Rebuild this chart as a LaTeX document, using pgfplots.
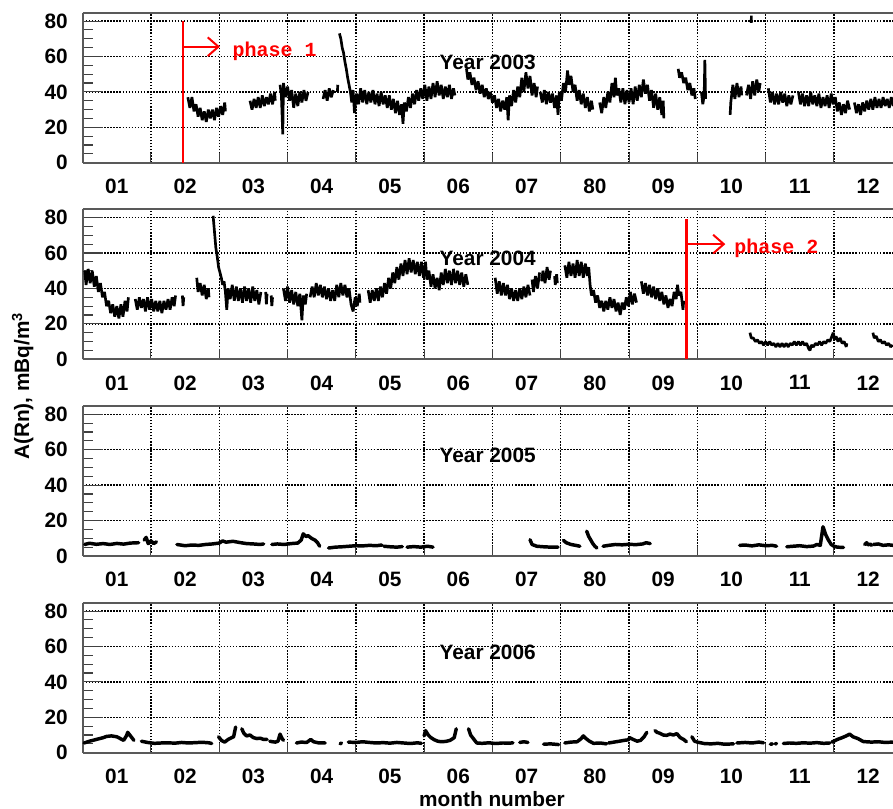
\documentclass[border=0pt]{standalone}
\usepackage{pgfplots}
\pgfplotsset{compat=1.18}
\usepackage{pgfplotstable}
\usetikzlibrary{arrows.meta}
\usepackage{fontspec}
\setmainfont{Liberation Sans}
\newfontfamily\monofont{Liberation Mono}
\newcommand{\lab}{\fontsize{15.6}{18}\selectfont\bfseries}
\newcommand{\phfont}{\monofont\fontsize{15}{17}\selectfont\bfseries}

% ---------- 2003 ----------
\pgfplotstableread[row sep=\\]{
x y\\
1.54 37\\ 1.57 31\\ 1.60 37\\ 1.63 29\\ 1.66 33\\ 1.69 26\\ 1.72 31\\ 1.75 24\\ 1.78 29\\ 1.81 23\\ 1.84 30\\ 1.87 25\\ 1.90 30\\ 1.93 24\\ 1.96 31\\ 1.99 26\\ 2.02 32\\ 2.05 27\\ 2.08 34\\ 2.09 29\\
nan nan\\
2.45 35\\ 2.48 30\\ 2.51 36\\ 2.54 31\\ 2.57 37\\ 2.60 31\\ 2.63 38\\ 2.66 32\\ 2.69 37\\ 2.72 33\\ 2.75 39\\ 2.78 33\\ 2.81 40\\ 2.82 35\\
nan nan\\
2.89 44\\ 2.91 38\\ 2.93 16\\ 2.94 45\\ 2.97 37\\ 3.00 43\\ 3.03 35\\ 3.06 41\\ 3.09 31\\ 3.12 39\\ 3.15 32\\ 3.18 40\\ 3.21 34\\ 3.24 41\\ 3.27 35\\ 3.30 40\\
nan nan\\
3.52 36\\ 3.55 41\\ 3.58 35\\ 3.61 42\\ 3.64 37\\ 3.67 41\\
nan nan\\
3.73 40\\ 3.735 44\\
nan nan\\
3.76 73\\ 3.78 70\\ 3.80 65\\ 3.82 62\\ 3.84 57\\ 3.86 53\\ 3.88 48\\ 3.90 44\\ 3.92 40\\ 3.94 34\\ 3.96 41\\ 3.98 28\\ 4.01 39\\ 4.04 33\\ 4.07 42\\ 4.10 34\\ 4.13 41\\ 4.16 33\\ 4.19 40\\ 4.22 34\\ 4.25 41\\ 4.28 33\\ 4.31 39\\ 4.34 32\\ 4.37 40\\ 4.40 33\\ 4.43 38\\ 4.46 31\\ 4.49 38\\ 4.52 30\\ 4.55 36\\ 4.58 28\\ 4.61 35\\ 4.64 27\\ 4.67 33\\ 4.69 22\\ 4.71 34\\ 4.74 29\\ 4.77 37\\ 4.80 31\\ 4.83 39\\ 4.86 33\\ 4.89 41\\ 4.92 35\\ 4.95 42\\ 4.98 36\\ 5.01 44\\ 5.04 35\\ 5.07 43\\ 5.10 36\\ 5.13 45\\ 5.16 37\\ 5.19 46\\ 5.22 38\\ 5.25 44\\ 5.28 36\\ 5.31 43\\ 5.34 37\\ 5.37 44\\ 5.40 36\\ 5.43 42\\ 5.45 38\\
nan nan\\
5.62 53\\ 5.64 47\\ 5.67 51\\ 5.70 44\\ 5.73 48\\ 5.76 41\\ 5.79 46\\ 5.82 39\\ 5.85 44\\ 5.88 37\\ 5.91 42\\ 5.94 36\\ 5.97 40\\ 6.00 34\\ 6.03 38\\ 6.06 31\\ 6.09 36\\ 6.12 29\\ 6.15 35\\ 6.18 30\\ 6.21 37\\ 6.23 24\\ 6.25 38\\ 6.28 32\\ 6.31 41\\ 6.34 34\\ 6.37 43\\ 6.40 37\\ 6.43 48\\ 6.46 40\\ 6.49 51\\ 6.52 42\\ 6.55 49\\ 6.58 38\\ 6.61 45\\ 6.64 37\\ 6.66 43\\
nan nan\\
6.70 40\\ 6.73 34\\ 6.76 41\\ 6.79 33\\ 6.82 40\\ 6.85 34\\ 6.88 39\\ 6.91 31\\ 6.94 38\\ 6.96 27\\ 6.98 40\\ 7.01 35\\ 7.04 45\\ 7.07 40\\ 7.10 52\\ 7.12 44\\ 7.15 49\\ 7.18 40\\ 7.21 44\\ 7.24 35\\ 7.27 41\\ 7.30 33\\ 7.33 39\\ 7.36 31\\ 7.39 37\\ 7.42 29\\ 7.45 35\\ 7.47 30\\
nan nan\\
7.57 34\\ 7.60 28\\ 7.63 37\\ 7.66 31\\ 7.69 40\\ 7.72 34\\ 7.75 45\\ 7.78 37\\ 7.80 48\\ 7.82 38\\ 7.85 42\\ 7.88 34\\ 7.91 42\\ 7.94 33\\ 7.97 41\\ 8.00 34\\ 8.03 42\\ 8.06 33\\ 8.09 43\\ 8.12 35\\ 8.15 44\\ 8.18 37\\ 8.21 47\\ 8.24 39\\ 8.27 44\\ 8.30 35\\ 8.33 41\\ 8.36 31\\ 8.39 39\\ 8.42 30\\ 8.45 37\\ 8.48 27\\ 8.50 35\\ 8.51 25\\
nan nan\\
8.72 53\\ 8.74 48\\ 8.77 51\\ 8.80 45\\ 8.83 48\\ 8.86 41\\ 8.89 45\\ 8.92 38\\ 8.95 42\\ 8.97 36\\
nan nan\\
9.06 40\\ 9.08 33\\ 9.10 38\\ 9.11 58\\ 9.12 36\\
nan nan\\
9.48 27\\ 9.49 34\\ 9.52 44\\ 9.55 36\\ 9.58 45\\ 9.61 37\\ 9.64 43\\ 9.65 38\\
nan nan\\
9.72 38\\ 9.75 44\\ 9.78 36\\ 9.81 46\\ 9.84 38\\ 9.87 47\\ 9.90 40\\ 9.92 45\\
nan nan\\
9.79 79\\ 9.791 83\\
nan nan\\
10.04 42\\ 10.07 34\\ 10.10 40\\ 10.13 33\\ 10.16 39\\ 10.19 33\\ 10.22 40\\ 10.25 34\\ 10.28 39\\ 10.31 32\\ 10.34 38\\ 10.37 33\\ 10.40 38\\
nan nan\\
10.48 40\\ 10.51 33\\ 10.54 39\\ 10.57 32\\ 10.60 38\\ 10.63 32\\ 10.66 40\\ 10.69 33\\ 10.72 38\\ 10.75 32\\ 10.78 39\\ 10.81 31\\ 10.84 37\\ 10.87 32\\ 10.90 38\\ 10.93 31\\ 10.96 39\\ 10.99 33\\ 11.02 37\\ 11.05 29\\ 11.08 34\\ 11.11 27\\ 11.14 33\\ 11.17 28\\ 11.20 35\\ 11.23 30\\
nan nan\\
11.30 34\\ 11.33 28\\ 11.36 33\\ 11.39 27\\ 11.42 34\\ 11.45 29\\ 11.48 35\\ 11.51 30\\ 11.54 36\\ 11.57 30\\ 11.60 37\\ 11.63 31\\ 11.66 36\\ 11.69 31\\ 11.72 37\\ 11.75 32\\ 11.78 36\\ 11.81 31\\ 11.84 37\\ 11.87 32\\
}\tA

% ---------- 2004 ----------
\pgfplotstableread[row sep=\\]{
x y\\
0.03 50\\ 0.05 42\\ 0.08 51\\ 0.11 43\\ 0.14 50\\ 0.17 41\\ 0.20 47\\ 0.23 38\\ 0.26 43\\ 0.29 35\\ 0.32 38\\ 0.35 30\\ 0.38 33\\ 0.41 26\\ 0.44 31\\ 0.47 24\\ 0.50 30\\ 0.53 23\\ 0.56 31\\ 0.59 24\\ 0.62 33\\ 0.65 27\\ 0.67 35\\
nan nan\\
0.77 34\\ 0.80 28\\ 0.83 35\\ 0.86 29\\ 0.89 34\\ 0.92 27\\ 0.95 35\\ 0.98 28\\ 1.01 34\\ 1.04 27\\ 1.07 33\\ 1.10 27\\ 1.13 33\\ 1.16 26\\ 1.19 33\\ 1.22 28\\ 1.25 34\\ 1.28 28\\ 1.31 35\\ 1.34 30\\ 1.36 36\\
nan nan\\
1.46 36\\ 1.47 30\\ 1.48 35\\
nan nan\\
1.67 46\\ 1.69 38\\ 1.72 43\\ 1.75 36\\ 1.78 42\\ 1.81 34\\ 1.84 40\\ 1.85 35\\
nan nan\\
1.91 81\\ 1.93 72\\ 1.95 63\\ 1.97 58\\ 1.99 52\\ 2.01 49\\ 2.03 46\\ 2.05 42\\ 2.07 44\\ 2.09 38\\ 2.11 28\\ 2.13 40\\ 2.16 34\\ 2.19 42\\ 2.22 33\\ 2.25 41\\ 2.28 33\\ 2.31 40\\ 2.34 32\\ 2.37 41\\ 2.40 33\\ 2.43 40\\ 2.46 32\\ 2.49 41\\ 2.52 33\\ 2.55 39\\ 2.58 31\\ 2.61 38\\
nan nan\\
2.68 38\\ 2.69 31\\ 2.70 37\\
nan nan\\
2.76 36\\ 2.77 30\\ 2.78 35\\
nan nan\\
2.94 40\\ 2.97 33\\ 3.00 41\\ 3.03 32\\ 3.06 39\\ 3.09 31\\ 3.12 38\\ 3.15 30\\ 3.18 37\\ 3.21 22\\ 3.23 36\\ 3.26 31\\ 3.28 37\\
nan nan\\
3.33 35\\ 3.36 41\\ 3.39 35\\ 3.42 43\\ 3.45 36\\ 3.48 42\\ 3.51 35\\ 3.54 41\\ 3.57 34\\ 3.60 40\\ 3.63 33\\ 3.66 39\\ 3.69 33\\ 3.72 42\\ 3.75 35\\ 3.78 43\\ 3.81 36\\ 3.84 42\\ 3.87 35\\ 3.90 40\\ 3.93 31\\ 3.96 27\\ 3.99 35\\ 4.02 30\\ 4.05 37\\ 4.06 32\\
nan nan\\
4.18 39\\ 4.21 32\\ 4.24 39\\ 4.27 33\\ 4.30 40\\ 4.33 33\\ 4.36 41\\ 4.39 35\\ 4.42 43\\ 4.45 37\\ 4.48 46\\ 4.51 40\\ 4.54 49\\ 4.57 43\\ 4.60 52\\ 4.63 45\\ 4.66 54\\ 4.69 47\\ 4.72 56\\ 4.75 48\\ 4.78 57\\ 4.81 49\\ 4.84 56\\ 4.87 48\\ 4.90 55\\ 4.93 47\\ 4.96 55\\ 4.99 46\\ 5.02 55\\ 5.04 45\\
5.07 50\\ 5.10 41\\ 5.13 48\\ 5.16 40\\ 5.19 46\\ 5.22 39\\ 5.25 49\\ 5.28 42\\ 5.31 51\\ 5.34 43\\ 5.37 50\\ 5.40 42\\ 5.43 51\\ 5.46 43\\ 5.49 50\\ 5.52 42\\ 5.55 49\\ 5.58 41\\ 5.61 48\\ 5.64 42\\
nan nan\\
6.04 46\\ 6.07 37\\ 6.10 44\\ 6.13 36\\ 6.16 43\\ 6.19 36\\ 6.22 42\\ 6.25 34\\ 6.28 40\\ 6.31 33\\ 6.34 39\\ 6.37 33\\ 6.40 40\\ 6.43 34\\ 6.46 41\\ 6.49 35\\ 6.52 42\\ 6.55 36\\
nan nan\\
6.58 45\\ 6.60 38\\ 6.63 47\\ 6.66 40\\ 6.69 49\\
nan nan\\
6.72 44\\ 6.74 50\\ 6.77 43\\ 6.80 52\\ 6.83 45\\ 6.85 50\\
nan nan\\
6.91 47\\ 6.92 42\\ 6.94 48\\ 6.95 43\\
nan nan\\
7.06 53\\ 7.09 46\\ 7.12 55\\ 7.15 47\\ 7.18 54\\ 7.21 46\\ 7.24 56\\ 7.27 47\\ 7.30 55\\ 7.33 46\\ 7.36 54\\ 7.39 47\\ 7.41 52\\
7.43 42\\ 7.45 36\\ 7.48 39\\ 7.51 32\\ 7.54 36\\ 7.57 29\\ 7.60 33\\ 7.63 27\\ 7.66 33\\ 7.69 28\\ 7.72 35\\ 7.75 29\\ 7.78 34\\ 7.81 27\\ 7.84 32\\ 7.87 25\\ 7.90 32\\ 7.93 28\\ 7.96 35\\ 7.99 30\\ 8.02 38\\ 8.05 31\\ 8.08 37\\ 8.11 32\\
nan nan\\
8.18 44\\ 8.21 37\\ 8.24 43\\ 8.27 36\\ 8.30 42\\ 8.33 35\\ 8.36 41\\ 8.39 34\\ 8.42 40\\ 8.45 33\\ 8.48 38\\ 8.51 31\\ 8.54 36\\ 8.57 29\\ 8.60 34\\ 8.63 30\\ 8.66 38\\ 8.69 34\\ 8.71 42\\ 8.73 36\\ 8.76 38\\ 8.79 28\\ 8.80 33\\
nan nan\\
9.77 15\\ 9.79 12\\ 9.82 12\\ 9.85 10\\ 9.88 11\\ 9.91 9\\ 9.94 10\\ 9.97 8\\ 10.00 10\\ 10.03 8\\ 10.06 10\\ 10.09 8\\ 10.12 9\\ 10.15 7\\ 10.18 9\\ 10.21 7\\ 10.24 9\\ 10.27 7\\ 10.30 9\\ 10.33 7\\ 10.36 9\\ 10.39 8\\ 10.42 10\\ 10.45 8\\ 10.48 10\\ 10.51 8\\ 10.54 10\\ 10.57 8\\ 10.60 9\\ 10.63 6\\ 10.65 5\\ 10.67 8\\ 10.70 7\\ 10.73 9\\ 10.76 8\\ 10.79 10\\ 10.82 8\\ 10.85 10\\ 10.88 9\\ 10.91 11\\ 10.94 10\\ 10.97 13\\ 10.99 15\\ 11.01 11\\ 11.03 13\\ 11.06 10\\ 11.09 12\\ 11.12 9\\ 11.15 10\\ 11.18 7\\ 11.19 9\\
nan nan\\
11.57 15\\ 11.59 12\\ 11.62 13\\ 11.65 10\\ 11.68 11\\ 11.71 9\\ 11.74 10\\ 11.77 8\\ 11.80 9\\ 11.83 7\\ 11.86 8\\
}\tB

% ---------- 2005 ----------
\pgfplotstableread[row sep=\\]{
x y\\
0.03 6.5\\ 0.10 7.2\\ 0.20 6.6\\ 0.30 7.0\\ 0.40 6.5\\ 0.50 7.1\\ 0.60 6.7\\ 0.70 7.3\\ 0.82 7.5\\
nan nan\\
0.90 9\\ 0.93 10.5\\ 0.96 7\\ 1.00 8.5\\ 1.04 7\\ 1.08 8\\
nan nan\\
1.38 6.5\\ 1.50 5.8\\ 1.60 6.2\\ 1.70 6.0\\ 1.80 6.5\\ 1.90 6.8\\ 2.00 7.3\\ 2.05 8.5\\ 2.10 7.8\\ 2.20 8.3\\ 2.30 7.6\\ 2.40 7.0\\ 2.50 6.8\\ 2.60 6.5\\ 2.65 6.8\\
nan nan\\
2.77 6.5\\ 2.85 6.8\\ 2.95 6.5\\ 3.05 7.0\\ 3.15 7.3\\ 3.20 9\\ 3.23 12.5\\ 3.27 11\\ 3.30 11.5\\ 3.35 10\\ 3.40 9\\ 3.44 7.5\\ 3.47 5.5\\
nan nan\\
3.60 4.5\\ 3.70 5\\ 3.80 5.2\\ 3.90 5.5\\ 4.00 5.8\\ 4.10 5.7\\ 4.20 6.0\\ 4.30 5.8\\ 4.38 6.2\\
nan nan\\
4.41 5.5\\ 4.50 5.2\\ 4.60 5.0\\ 4.68 5.3\\
nan nan\\
4.75 5.0\\ 4.85 5.3\\ 4.95 5.0\\ 5.05 5.5\\ 5.13 5.0\\
nan nan\\
6.55 9.2\\ 6.58 6.5\\ 6.65 5.5\\ 6.75 5.2\\ 6.85 5.0\\ 6.96 5.0\\
nan nan\\
7.04 8.8\\ 7.08 7.5\\ 7.15 6.5\\ 7.22 6.0\\ 7.28 5.5\\
nan nan\\
7.38 14\\ 7.41 11\\ 7.44 9\\ 7.47 7\\ 7.50 5.5\\ 7.53 4.5\\
nan nan\\
7.62 5.5\\ 7.70 6.0\\ 7.80 6.5\\ 7.90 6.3\\ 8.00 6.6\\ 8.10 6.4\\ 8.20 6.8\\ 8.25 7.5\\ 8.31 7.0\\
nan nan\\
9.62 6.0\\ 9.70 6.2\\ 9.80 5.7\\ 9.90 6.3\\ 10.00 5.8\\ 10.10 6.0\\ 10.16 5.5\\
nan nan\\
10.31 5.2\\ 10.40 5.5\\ 10.50 5.8\\ 10.60 5.3\\ 10.70 5.6\\ 10.75 6.5\\ 10.80 6.0\\ 10.84 16.5\\ 10.88 12\\ 10.92 9\\ 10.96 6.5\\ 11.00 5.5\\ 11.05 5.0\\ 11.14 4.8\\
nan nan\\
11.45 6.5\\ 11.48 7.5\\ 11.50 6.2\\
nan nan\\
11.53 6.8\\ 11.55 6.0\\
nan nan\\
11.58 6.5\\ 11.65 6.8\\ 11.72 6.0\\ 11.80 6.3\\ 11.87 6.0\\
}\tC

% ---------- 2006 ----------
\pgfplotstableread[row sep=\\]{
x y\\
0.02 5.5\\ 0.10 6.5\\ 0.20 7.5\\ 0.30 8.5\\ 0.35 9.2\\ 0.42 9.5\\ 0.50 9.0\\ 0.56 7.8\\ 0.60 7.0\\ 0.64 9.5\\ 0.66 11.5\\ 0.69 10\\ 0.72 8.5\\ 0.75 7\\
nan nan\\
0.86 6.5\\ 0.95 5.8\\ 1.05 5.3\\ 1.15 5.5\\ 1.25 5.6\\ 1.35 5.4\\ 1.45 5.8\\ 1.55 5.5\\ 1.65 5.7\\ 1.75 5.9\\ 1.85 5.6\\ 1.89 5.2\\
nan nan\\
1.99 9\\ 2.03 7\\ 2.08 6.0\\ 2.13 7.5\\ 2.18 8.5\\ 2.21 9\\ 2.24 14.5\\
nan nan\\
2.33 13.5\\ 2.36 11\\ 2.40 9.5\\ 2.45 10\\ 2.50 8.5\\ 2.55 8.0\\ 2.60 8.2\\ 2.65 7.5\\ 2.70 7.5\\
nan nan\\
2.74 6.5\\ 2.78 6.2\\ 2.82 6.0\\ 2.86 6.5\\ 2.89 10.5\\ 2.92 8\\ 2.94 7\\
nan nan\\
3.13 5.5\\ 3.20 6.0\\ 3.28 5.8\\ 3.34 7.5\\ 3.38 6.2\\ 3.45 5.6\\ 3.55 5.5\\
nan nan\\
3.77 5.0\\ 3.79 5.5\\
nan nan\\
3.89 6.0\\ 4.00 5.8\\ 4.10 6.2\\ 4.20 5.8\\ 4.30 5.5\\ 4.40 5.7\\ 4.50 5.4\\ 4.60 5.8\\ 4.70 5.5\\ 4.80 5.2\\ 4.90 5.6\\ 4.96 5.3\\
nan nan\\
5.00 9.5\\ 5.02 12.5\\ 5.06 10\\ 5.10 8.5\\ 5.15 7.3\\ 5.20 6.5\\ 5.25 6.2\\ 5.32 6.4\\ 5.38 7.0\\ 5.44 8.5\\ 5.47 13.5\\
nan nan\\
5.65 13.5\\ 5.68 10\\ 5.71 8.5\\ 5.74 7\\ 5.77 5.5\\ 5.85 5.3\\ 5.95 5.6\\ 6.05 5.2\\ 6.15 5.5\\ 6.25 5.4\\ 6.30 5.6\\
nan nan\\
6.40 5.8\\ 6.46 6.2\\ 6.52 5.8\\
nan nan\\
6.75 4.8\\ 6.85 5.0\\ 6.97 4.6\\
nan nan\\
7.06 5.5\\ 7.15 6.0\\ 7.24 6.2\\ 7.30 8\\ 7.33 9.5\\ 7.37 8\\ 7.42 6.5\\ 7.48 5.3\\ 7.58 5.5\\ 7.67 5.0\\
nan nan\\
7.70 5.5\\ 7.78 6.0\\ 7.86 6.5\\ 7.93 7.0\\ 7.99 7.3\\ 8.01 8.5\\ 8.06 7.5\\ 8.12 6.5\\ 8.17 7.0\\ 8.22 9\\ 8.26 11.5\\
nan nan\\
8.38 12.5\\ 8.41 11.5\\ 8.45 11\\ 8.50 10\\ 8.55 9.8\\ 8.60 10.5\\ 8.65 10\\ 8.70 10.8\\ 8.75 8.5\\ 8.80 7.5\\ 8.84 6.2\\
nan nan\\
8.92 9\\ 8.96 6.5\\ 9.00 6\\ 9.10 5.2\\ 9.20 5.0\\ 9.30 5.3\\ 9.40 4.8\\ 9.53 5.0\\
nan nan\\
9.58 5.5\\ 9.70 5.8\\ 9.80 5.5\\ 9.90 6.0\\ 9.97 5.6\\
nan nan\\
10.07 4.8\\ 10.10 5.0\\
nan nan\\
10.14 5.0\\ 10.16 5.2\\
nan nan\\
10.26 5.2\\ 10.35 5.5\\ 10.45 5.3\\ 10.55 5.6\\ 10.65 5.4\\ 10.75 5.7\\ 10.85 5.3\\ 10.94 5.5\\
nan nan\\
10.97 6.0\\ 11.05 7.5\\ 11.12 8.5\\ 11.18 9.5\\ 11.23 10.5\\ 11.28 9\\ 11.35 8\\ 11.43 6.3\\ 11.55 6.0\\ 11.65 6.2\\ 11.75 5.8\\ 11.86 6.0\\
}\tD

\pgfplotsset{
  panel/.style={
    scale only axis, width=607.7pt, height=112.5pt,
    xmin=0, xmax=11.864, ymin=0, ymax=84.7,
    anchor=south west,
    axis y line*=left, y axis line style={-},
    axis line style={draw=black!65, line width=1.3pt},
    tick align=inside,
    xtick={0.5,1.5,...,11.5},
    xticklabels={01,02,03,04,05,06,07,80,09,10,11,12},
    minor xtick={1,2,...,11},
    xtick pos=left,
    ytick={0,20,40,60,80},
    minor ytick={5,10,15,25,30,35,45,50,55,65,70,75},
    ymajorgrids=true, xminorgrids=true, xmajorgrids=false,
    major grid style={black, line width=1.1pt, dash pattern=on 1.1pt off 1.2pt},
    minor grid style={black, line width=1.1pt, dash pattern=on 1.1pt off 1.2pt},
    major tick length=15pt, minor tick length=7.5pt,
    tick style={draw=black!75, line width=0.8pt},
    every major x tick/.append style={draw=none},
    /pgf/number format/assume math mode=true,
    tick label style={font=\lab},
    xticklabel style={inner ysep=0pt, yshift=-12pt},
    yticklabel style={inner xsep=0pt, xshift=-11pt},
    unbounded coords=jump,
  },
  noisy/.style={black, line width=2pt, line join=bevel},
  smooth band/.style={black, line width=2.6pt, line join=round, line cap=round},
}

\begin{document}
\begin{tikzpicture}
\begin{axis}[panel, at={(62pt,484.7pt)}]
\addplot[noisy] table {\tA};
\addplot[red, line width=2pt] coordinates {(1.47,0) (1.47,80)};
\addplot[red, line width=1.5pt, -{Straight Barb[length=8pt,width=14pt]}] coordinates {(1.47,65.5) (2.01,65.5)};
\node[font=\phfont, text=red, anchor=west, inner sep=0pt] at (axis cs:2.19,62.7) {phase 1};
\node[font=\lab] at (axis cs:5.93,56.9) {Year 2003};
\end{axis}

\begin{axis}[panel, at={(62pt,337.3pt)}]
\addplot[noisy] table {\tB};
\addplot[red, line width=2pt] coordinates {(8.84,0) (8.84,79)};
\addplot[red, line width=1.5pt, -{Straight Barb[length=8pt,width=14pt]}] coordinates {(8.84,65) (9.41,65)};
\node[font=\phfont, text=red, anchor=west, inner sep=0pt] at (axis cs:9.54,62.4) {phase 2};
\node[font=\lab] at (axis cs:5.93,56.9) {Year 2004};
\end{axis}

\begin{axis}[panel, at={(62pt,189.75pt)}]
\addplot[smooth band] table {\tC};
\node[font=\lab] at (axis cs:5.93,56.9) {Year 2005};
\end{axis}

\begin{axis}[panel, at={(62pt,42.2pt)}]
\addplot[smooth band] table {\tD};
\node[font=\lab] at (axis cs:5.93,56.9) {Year 2006};
\end{axis}

\node[font=\lab, rotate=90] at (17pt,317.25pt) {A(Rn), mBq/m\textsuperscript{3}};
\node[font=\lab, anchor=base] at (369pt,2pt) {month number};

\pgfresetboundingbox
\path[use as bounding box] (0,0) rectangle (669.75pt,606.75pt);
\end{tikzpicture}
\end{document}
